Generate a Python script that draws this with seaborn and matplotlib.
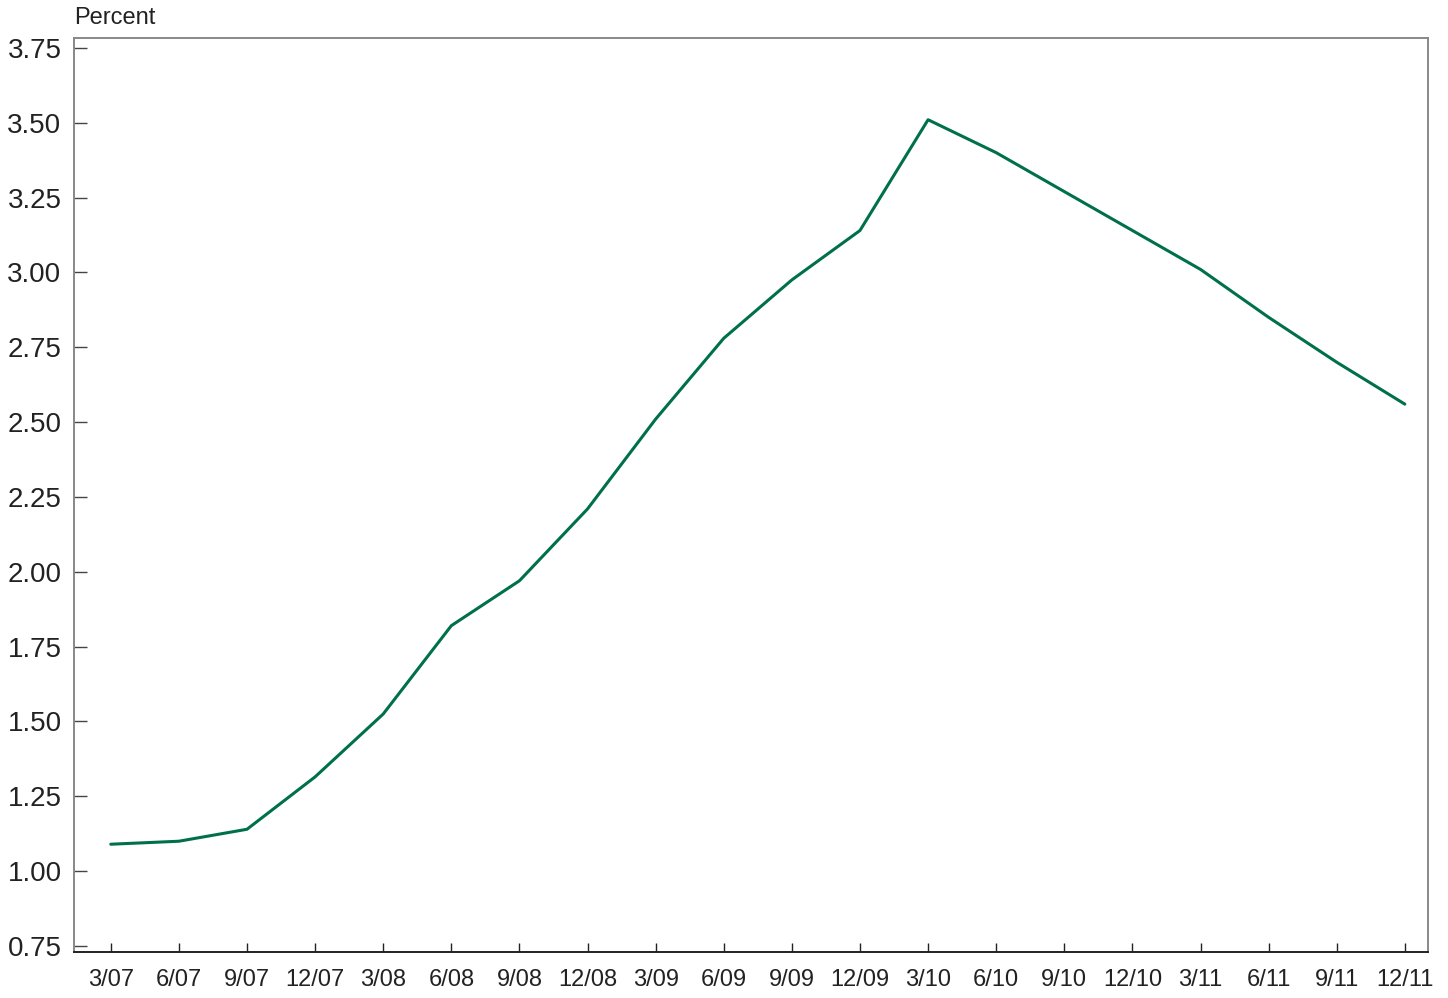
"""Percent series, quarterly 2007-2011"""
import matplotlib
matplotlib.use("Agg")
import matplotlib.pyplot as plt
import seaborn as sns
import pandas as pd

quarters = ["3/07", "6/07", "9/07", "12/07", "3/08", "6/08", "9/08", "12/08",
            "3/09", "6/09", "9/09", "12/09", "3/10", "6/10", "9/10", "12/10",
            "3/11", "6/11", "9/11", "12/11"]
percent = [1.09, 1.10, 1.14, 1.315, 1.525, 1.82, 1.97, 2.21,
           2.51, 2.78, 2.975, 3.14, 3.51, 3.40, 3.27, 3.14,
           3.01, 2.85, 2.70, 2.56]
y_ticks = [0.75, 1.00, 1.25, 1.50, 1.75, 2.00, 2.25, 2.50, 2.75, 3.00, 3.25, 3.50, 3.75]

df = pd.DataFrame({"pos": range(len(quarters)), "value": percent})

sns.set_style("white", {"xtick.direction": "in", "ytick.direction": "in",
                        "xtick.bottom": True, "ytick.left": True})
plt.rcParams["font.family"] = ["Liberation Sans", "DejaVu Sans"]

fig = plt.figure(figsize=(14.48, 9.98), dpi=100)
ax = fig.add_axes([74 / 1448, 1 - 952 / 998, (1428 - 74) / 1448, (952 - 38) / 998])

sns.lineplot(data=df, x="pos", y="value", color="#00704A", linewidth=2.2, ax=ax)

ax.set_xlim(-0.54, 19.34)
ax.set_ylim(0.73, 3.783)
ax.set_xlabel("")
ax.set_ylabel("")

ax.set_xticks(range(len(quarters)))
ax.set_xticklabels(quarters, fontsize=17, color="#222222")
ax.set_xticks([i for i, q in enumerate(quarters) if q.startswith("12/")], minor=True)
ax.tick_params(axis="x", which="major", bottom=True, direction="in", length=6.5,
               width=1, color="#222222", pad=12)
ax.tick_params(axis="x", which="minor", bottom=True, direction="in", length=11.5,
               width=1, color="#222222")

ax.set_yticks(y_ticks)
ax.set_yticklabels([f"{v:.2f}" for v in y_ticks], fontsize=20, color="#222222")
ax.tick_params(axis="y", left=True, direction="in", length=9.5, width=1,
               color="#444444", pad=9)

for side in ["left", "top", "right"]:
    ax.spines[side].set_color("#888888")
    ax.spines[side].set_linewidth(1.4)
ax.spines["bottom"].set_color("#222222")
ax.spines["bottom"].set_linewidth(1.4)

fig.text(74 / 1448, 1 - 18 / 998, "Percent", fontsize=17, color="#222222",
         ha="left", va="center")

fig.savefig("out.png", dpi=100)
